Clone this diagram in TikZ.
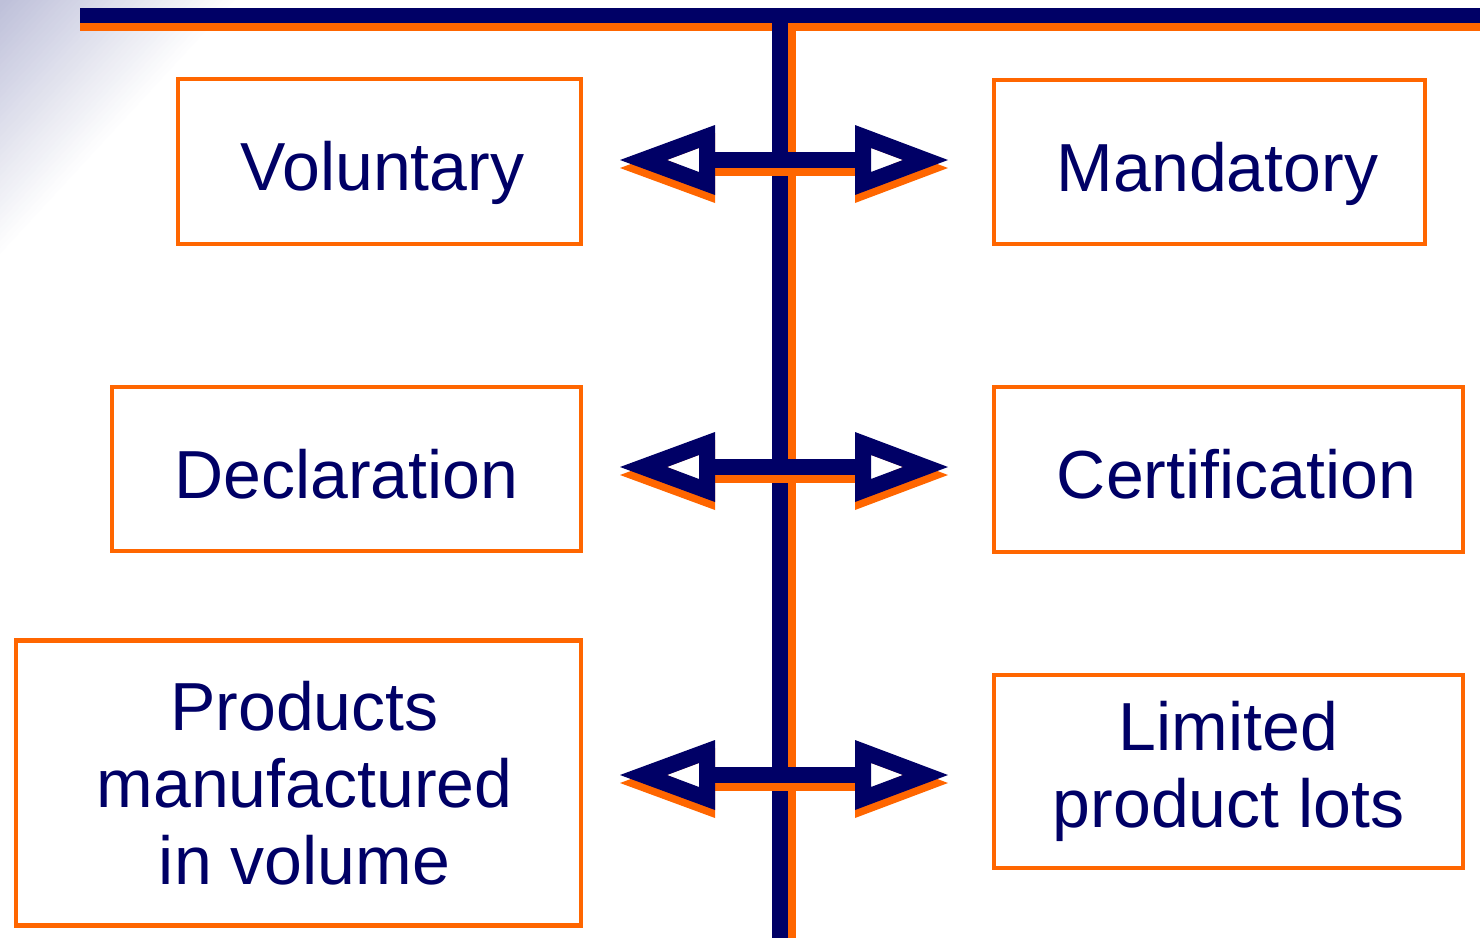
\documentclass[tikz,border=0pt]{standalone}
\usepackage{fontspec}
\setmainfont{Liberation Sans}
\definecolor{navy}{RGB}{0,0,102}
\definecolor{sorange}{RGB}{255,102,0}
\definecolor{haze}{RGB}{188,190,216}
\begin{document}
\begin{tikzpicture}[x=0.5pt,y=-0.5pt,
    box/.style={draw=sorange, line width=2.25pt, fill=white, text=navy,
        align=center, inner sep=0pt, font=\fontsize{34}{38.5}\selectfont},
    oneline/.style={text height=33.5pt, text depth=4.5pt}]
    \useasboundingbox (0,0) rectangle (1480,938);

    % Corner haze
    \foreach \i [evaluate=\i as \pct using 100-2.5*\i] in {40,...,1}
        \fill[haze!\pct!white] (0,0) -- (6*\i,0) -- (0,6.5*\i) -- cycle;

    % Spine and top bar
    \coordinate (spinetop) at (780,8);
    \coordinate (spinebot) at (780,938);
    \fill[sorange] (80,23) rectangle (1480,31);
    \fill[sorange] (788,31) rectangle (796,938);
    \fill[navy] (80,8) rectangle (1480,23);
    \fill[navy] (772,8) rectangle (788,938);

    % Double arrows (shadow first)
    \foreach \y in {168,475,783} {
        \fill[sorange, even odd rule] (620,\y) -- (715,\y-35) -- (715,\y+35) -- cycle
            (667,\y) -- (699,\y-12) -- (699,\y+12) -- cycle;
        \fill[sorange, even odd rule] (948,\y) -- (855,\y-35) -- (855,\y+35) -- cycle
            (903,\y) -- (871,\y-12) -- (871,\y+12) -- cycle;
        \fill[sorange] (715,\y-8) rectangle (855,\y+8);
    }
    \foreach \y in {160,467,775} {
        \fill[white] (667,\y) -- (699,\y-12) -- (699,\y+12) -- cycle;
        \fill[white] (903,\y) -- (871,\y-12) -- (871,\y+12) -- cycle;
        \fill[navy, even odd rule] (620,\y) -- (715,\y-35) -- (715,\y+35) -- cycle
            (667,\y) -- (699,\y-12) -- (699,\y+12) -- cycle;
        \fill[navy, even odd rule] (948,\y) -- (855,\y-35) -- (855,\y+35) -- cycle
            (903,\y) -- (871,\y-12) -- (871,\y+12) -- cycle;
        \fill[navy] (715,\y-8) rectangle (855,\y+8);
    }

    % Left column
    \node[box, oneline, minimum width=201.5pt, minimum height=82.5pt] (voluntary) at (379.5,161.5) {\hspace{3pt}Voluntary};
    \node[box, oneline, minimum width=234.5pt, minimum height=82pt] (declaration) at (346.5,469) {Declaration};
    \node[box, minimum width=282.5pt, minimum height=142.5pt] (products) at (298.5,783) {\hspace*{6pt}Products\\\hspace*{6pt}manufactured\\\hspace*{6pt}in volume};

    % Right column
    \node[box, oneline, minimum width=215.5pt, minimum height=82pt] (mandatory) at (1209.5,162) {\hspace{8pt}Mandatory};
    \node[box, oneline, minimum width=234.5pt, minimum height=82.5pt] (certification) at (1228.5,469.5) {\hspace{8pt}Certification};
    \node[box, minimum width=234.5pt, minimum height=96.5pt] (limited) at (1228.5,771.5) {Limited\\product lots};
\end{tikzpicture}
\end{document}
